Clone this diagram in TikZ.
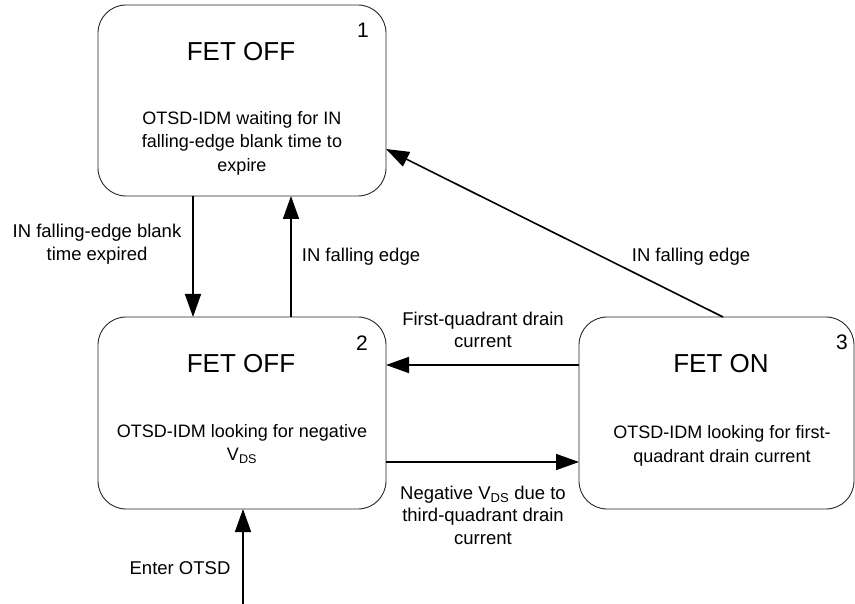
\documentclass[tikz,border=0pt]{standalone}
\usepackage{fontspec}
\setmainfont{Liberation Sans}
\usetikzlibrary{arrows.meta}
\begin{document}
\begin{tikzpicture}[x=1pt,y=-1pt,
  statebox/.style={draw=black!85, line width=0.9pt, rounded corners=28pt, inner sep=0pt, outer sep=0pt},
  title/.style={font=\fontsize{26}{30}\selectfont, inner sep=0pt},
  body/.style={font=\fontsize{18}{23.5}\selectfont, align=center, inner sep=0pt},
  lbl/.style={font=\fontsize{18.5}{22.5}\selectfont, align=center, inner sep=0pt},
  num/.style={font=\fontsize{21}{24}\selectfont, inner sep=0pt},
  arr/.style={line width=1.6pt, -{Triangle[length=23pt,width=16pt]}}]
\useasboundingbox (0,0) rectangle (855,604);
% state boxes
\node[statebox, minimum width=288pt, minimum height=191pt] (b1) at (242,100.5) {};
\node[statebox, minimum width=288pt, minimum height=192pt] (b2) at (242,413) {};
\node[statebox, minimum width=275pt, minimum height=192pt] (b3) at (716.5,413) {};
% box texts
\node[num] (n1) at (363,30) {1};
\node[title] (t1) at (241,52) {FET OFF};
\node[body] (d1) at (242,143) {OTSD-IDM waiting for IN\\falling-edge blank time to\\expire};
\node[num] (n2) at (362,343) {2};
\node[title] (t2) at (241,364) {FET OFF};
\node[body] (d2) at (242,444) {OTSD-IDM looking for negative\\V\textsubscript{DS}};
\node[num] (n3) at (842,342) {3};
\node[title] (t3) at (721,364) {FET ON};
\node[body] (d3) at (722,446) {OTSD-IDM looking for first-\\quadrant drain current};
% connectors
\coordinate (start) at (243,604);
\draw[arr] ([xshift=-49pt]b1.south) -- ([xshift=-49pt]b2.north);
\draw[arr] ([xshift=49pt]b2.north) -- ([xshift=49pt]b1.south);
\draw[arr] ([yshift=48pt]b3.west) -- ([yshift=48pt]b2.east);
\draw[arr] ([yshift=-49pt]b2.east) -- ([yshift=-49pt]b3.west);
\draw[arr] ([xshift=6.5pt]b3.north) -- ([yshift=-48.5pt]b1.east);
\draw[arr] (start) -- ([xshift=1pt]b2.south);
% connector labels
\node[lbl] (l1) at (97,244) {IN falling-edge blank\\time expired};
\node[lbl] (l2) at (361,257) {IN falling edge};
\node[lbl] (l3) at (691,257) {IN falling edge};
\node[lbl] (l4) at (483,330) {First-quadrant drain\\current};
\node[lbl] (l5) at (483,515) {Negative V\textsubscript{DS} due to\\third-quadrant drain\\current};
\node[lbl] (l6) at (180,568) {Enter OTSD};
\end{tikzpicture}
\end{document}
